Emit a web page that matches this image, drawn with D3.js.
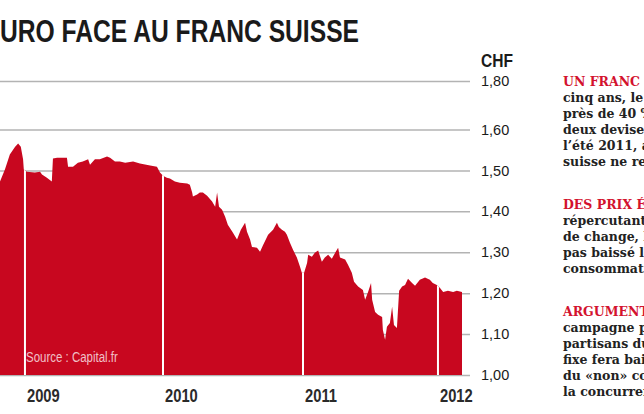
<!DOCTYPE html>
<html>
<head>
<meta charset="utf-8">
<script src="https://d3js.org/d3.v7.min.js"></script>
<style>
  body { margin: 0; background: #fff; }
  svg { display: block; }
  .sans { font-family: "Liberation Sans", Arial, sans-serif; }
  .col { font-family: "DejaVu Serif", serif; font-weight: bold; font-size: 12.5px; fill: #222; }
  .col .head { fill: #d3122e; }
</style>
</head>
<body>
<div id="chart"></div>
<script>
  // EUR/CHF
  const dates = [
    "2008-10-27", "2008-11-09", "2008-11-22", "2008-12-06", "2008-12-14", "2008-12-21", "2008-12-27", "2008-12-29",
    "2009-01-06", "2009-01-27", "2009-02-10", "2009-02-15", "2009-02-28", "2009-03-13", "2009-03-16", "2009-03-27",
    "2009-04-09", "2009-04-22", "2009-04-25", "2009-05-08", "2009-05-21", "2009-06-03", "2009-06-17", "2009-06-22",
    "2009-07-05", "2009-07-18", "2009-08-06", "2009-08-14", "2009-08-27", "2009-09-09", "2009-09-23", "2009-10-14",
    "2009-11-01", "2009-11-28", "2009-12-16", "2009-12-24", "2009-12-29",
    "2010-01-01", "2010-01-11", "2010-01-19", "2010-02-01", "2010-02-14", "2010-03-05", "2010-03-12", "2010-03-18",
    "2010-03-20", "2010-03-31", "2010-04-07", "2010-04-15", "2010-04-26", "2010-05-09", "2010-05-17", "2010-05-22",
    "2010-05-27", "2010-06-04", "2010-06-12", "2010-06-19", "2010-07-02", "2010-07-13", "2010-07-23", "2010-08-03",
    "2010-08-08", "2010-08-16", "2010-08-21", "2010-09-03", "2010-09-11", "2010-09-19", "2010-10-02", "2010-10-15",
    "2010-10-25", "2010-10-30", "2010-11-07", "2010-11-15", "2010-11-20", "2010-11-28", "2010-12-06", "2010-12-16",
    "2010-12-24", "2010-12-29",
    "2011-01-04", "2011-01-12", "2011-01-15", "2011-01-25", "2011-02-02", "2011-02-11", "2011-02-21", "2011-03-01",
    "2011-03-10", "2011-03-20", "2011-03-29", "2011-04-06", "2011-04-11", "2011-04-25", "2011-05-03", "2011-05-13",
    "2011-05-19", "2011-05-30", "2011-06-12", "2011-06-18", "2011-06-26", "2011-07-04", "2011-07-07", "2011-07-15",
    "2011-07-23", "2011-08-03", "2011-08-05", "2011-08-11", "2011-08-16", "2011-08-24", "2011-08-30", "2011-09-04",
    "2011-09-12", "2011-09-18", "2011-09-26", "2011-10-04", "2011-10-12", "2011-10-23", "2011-10-31", "2011-11-13",
    "2011-11-27", "2011-12-10", "2011-12-18", "2011-12-29",
    "2012-01-06", "2012-01-15", "2012-01-28", "2012-02-11", "2012-02-21", "2012-03-06"
  ];
  const rates = [
    1.473, 1.502, 1.539, 1.558, 1.566, 1.558, 1.527, 1.502,
    1.497, 1.495, 1.497, 1.490, 1.482, 1.473, 1.529, 1.531,
    1.531, 1.531, 1.509, 1.509, 1.519, 1.522, 1.527, 1.514,
    1.527, 1.527, 1.534, 1.531, 1.522, 1.522, 1.519, 1.522,
    1.517, 1.512, 1.509, 1.495, 1.490,
    1.487, 1.482, 1.480, 1.473, 1.470, 1.468, 1.465, 1.446,
    1.436, 1.441, 1.446, 1.446, 1.438, 1.424, 1.411, 1.446,
    1.411, 1.404, 1.387, 1.367, 1.348, 1.331, 1.355, 1.372,
    1.350, 1.331, 1.313, 1.311, 1.301, 1.318, 1.343, 1.355,
    1.372, 1.362, 1.355, 1.350, 1.343, 1.323, 1.306, 1.287,
    1.265, 1.250,
    1.250, 1.274, 1.294, 1.289, 1.299, 1.304, 1.277, 1.287,
    1.294, 1.284, 1.299, 1.311, 1.287, 1.282, 1.269, 1.250,
    1.228, 1.216, 1.208, 1.184, 1.203, 1.225, 1.184, 1.154,
    1.147, 1.142, 1.110, 1.086, 1.118, 1.127, 1.167, 1.122,
    1.115, 1.206, 1.216, 1.220, 1.235, 1.225, 1.218, 1.233,
    1.238, 1.233, 1.225, 1.220,
    1.213, 1.203, 1.206, 1.203, 1.206, 1.203
  ];
  const tickValues = [1.0, 1.1, 1.2, 1.3, 1.4, 1.5, 1.6, 1.8];
  const years = [2009, 2010, 2011, 2012];

  const title = "URO FACE AU FRANC SUISSE";
  const unit = "CHF";
  const source = "Source : Capital.fr";

  // right-hand column: red lead-in, then the body lines (cut by the page edge, as in print)
  const heads = ["UN FRANC FORT.", "DES PRIX ÉLEVÉS.", "ARGUMENTS."];
  const leads = [" En", " Ne", " Pendant"];
  const bodies = [
    ["cinq ans, le franc", "près de 40 % face", "deux devises ont", "l’été 2011, avant", "suisse ne reprenne"],
    ["répercutant pas", "de change, les", "pas baissé leurs", "consommation."],
    ["campagne pour", "partisans du taux", "fixe fera baisser", "du «non» comptent", "la concurrence."]
  ];

  const W = 644, H = 414;
  const plotRight = 470;

  const parse = d3.timeParse("%Y-%m-%d");
  const data = dates.map((d, i) => ({ date: parse(d), value: rates[i] }));

  const svg = d3.select("#chart").append("svg")
    .attr("width", W)
    .attr("height", H);

  // time axis is printed slightly unevenly per year, hence the stops
  const x = d3.scaleTime()
    .domain([parse("2008-10-27"), new Date(2010, 0, 1), new Date(2011, 0, 1), parse("2012-03-06")])
    .range([0, 163, 303, 462]);

  // scale is compressed above 1,60 on the original
  const y = d3.scaleLinear().domain([1.0, 1.6, 1.8]).range([375, 129.5, 81]);

  const fr = d3.formatLocale({ decimal: ",", thousands: " ", grouping: [3], currency: ["", " CHF"] });

  // condensed look: no narrow face installed, so squeeze Liberation Sans
  function narrowText(x0, y0, sx) {
    return svg.append("text")
      .attr("class", "sans")
      .attr("transform", `translate(${x0},${y0}) scale(${sx},1)`);
  }

  const yAxis = svg.append("g")
    .attr("class", "sans")
    .attr("transform", `translate(${plotRight},0)`)
    .call(d3.axisRight(y).tickValues(tickValues).tickSize(-plotRight).tickPadding(11).tickFormat(fr.format(".2f")));
  yAxis.select(".domain").remove();
  yAxis.selectAll("line").attr("stroke", "#b3b3b3").attr("stroke-width", 1.5);
  yAxis.selectAll("text")
    .attr("fill", "#1a1a1a")
    .style("font-family", "'Liberation Sans', Arial, sans-serif")
    .style("font-size", "14.5px");

  const area = d3.area()
    .x(d => x(d.date))
    .y0(y(1.0))
    .y1(d => y(d.value));

  svg.append("clipPath").attr("id", "fill-clip")
    .append("path").attr("d", area(data));

  svg.append("path")
    .datum(data)
    .attr("fill", "#c8071f")
    .attr("d", area);

  // white year separators, only visible inside the red area
  svg.append("g")
    .attr("clip-path", "url(#fill-clip)")
    .selectAll("line")
    .data(years)
    .join("line")
    .attr("x1", d => x(new Date(d, 0, 1)))
    .attr("x2", d => x(new Date(d, 0, 1)))
    .attr("y1", y(1.8))
    .attr("y2", y(1.0))
    .attr("stroke", "#fff")
    .attr("stroke-width", 2);

  years.forEach(yr => {
    narrowText(x(new Date(yr, 0, 1)) + 2, 402, 0.82)
      .style("font-size", "18px")
      .style("font-weight", "bold")
      .attr("fill", "#2a2a2a")
      .text(yr);
  });

  narrowText(26, 362, 0.82)
    .style("font-size", "14px")
    .attr("fill", "#fff")
    .attr("fill-opacity", 0.75)
    .text(source);

  narrowText(0, 42, 0.77)
    .style("font-size", "32px")
    .style("font-weight", "bold")
    .attr("fill", "#1a1a1a")
    .text(title);

  narrowText(481, 67, 0.82)
    .style("font-size", "19px")
    .style("font-weight", "bold")
    .attr("fill", "#1a1a1a")
    .text(unit);

  const colX = 563, lineH = 16;
  const colTop = [86, 209, 316];
  const col = svg.append("g").attr("class", "col");
  heads.forEach((h, i) => {
    const first = col.append("text").attr("x", colX).attr("y", colTop[i]);
    first.append("tspan").attr("class", "head").text(h);
    first.append("tspan").text(leads[i]);
    bodies[i].forEach((line, j) => {
      col.append("text")
        .attr("x", colX)
        .attr("y", colTop[i] + (j + 1) * lineH)
        .text(line);
    });
  });
</script>
</body>
</html>
